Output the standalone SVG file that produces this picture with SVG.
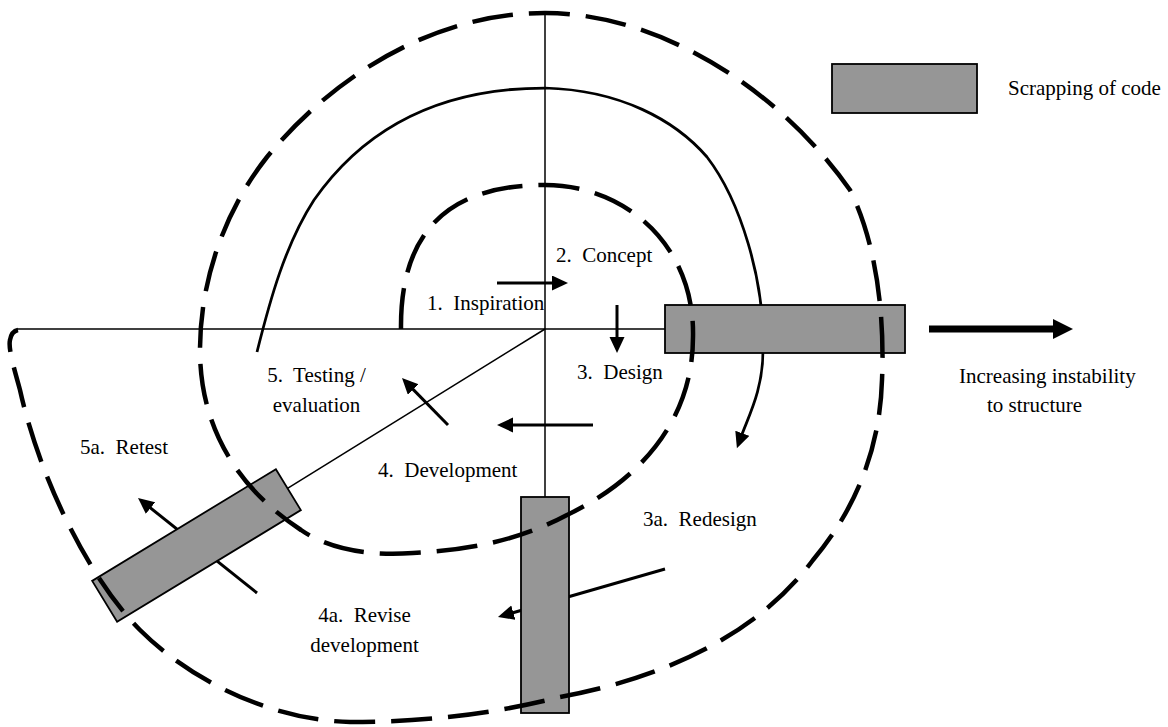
<svg xmlns="http://www.w3.org/2000/svg" width="1168" height="727" viewBox="0 0 1168 727" xml:space="preserve">
  <defs>
    <style>
      .lbl { font-family: "Liberation Serif", "Times New Roman", serif; font-size: 21px; fill: #000; white-space: pre; }
      .mid { text-anchor: middle; }
      .axis { stroke: #000; stroke-width: 1.5; fill: none; }
      .dash { stroke: #000; stroke-width: 4.5; fill: none; stroke-dasharray: 41 16; }
      .flow { stroke: #000; stroke-width: 2.75; fill: none; marker-end: url(#head); }
      .arr { stroke: #000; stroke-width: 3; fill: none; marker-end: url(#head); }
      .scrap { fill: #969696; stroke: #000; stroke-width: 1.8; }
    </style>
    <marker id="head" markerUnits="userSpaceOnUse" markerWidth="17" markerHeight="16" refX="4" refY="7.5" orient="auto">
      <path d="M0,0 L16,7.5 L0,15 z" fill="#000"/>
    </marker>
  </defs>

  <rect width="1168" height="727" fill="#fff"/>

  <!-- axes, solid spiral and stage arrows (beneath the scrap blocks) -->
  <g id="connectors">
    <line class="axis" x1="17" y1="329" x2="665" y2="329"/>
    <line class="axis" x1="545" y1="15" x2="545" y2="600"/>
    <line class="axis" x1="545" y1="329" x2="196" y2="545"/>

    <path class="flow" d="M257,352 C270,300 285,245 314,200 C370,120 450,88 545,88 C620,90 675,120 707,157 C740,200 765,280 763,350 C763,390 749,415 741,437"/>

    <line class="arr" x1="497" y1="283" x2="556" y2="283"/>
    <line class="arr" x1="617" y1="305" x2="617" y2="341"/>
    <line class="arr" x1="593" y1="425" x2="509" y2="425"/>
    <line class="arr" x1="448" y1="425" x2="410.4" y2="386.6"/>
    <line class="arr" x1="257" y1="593" x2="147.4" y2="505.5"/>
    <line class="arr" x1="665" y1="569" x2="509.5" y2="613.7"/>

    <line x1="929" y1="329" x2="1054" y2="329" stroke="#000" stroke-width="7"/>
    <polygon points="1053,319 1073,329 1053,339" fill="#000"/>
  </g>

  <!-- scrap blocks -->
  <g id="scrap-right">
    <rect class="scrap" x="665" y="305" width="240" height="48"/>
  </g>
  <g id="scrap-bottom">
    <rect class="scrap" x="521" y="497" width="48" height="216"/>
  </g>
  <g id="scrap-left">
    <rect class="scrap" x="-107.5" y="-24" width="215" height="48" transform="translate(196.5,545.5) rotate(-31.3)"/>
  </g>

  <!-- dashed development spiral, drawn over the blocks -->
  <g id="spiral">
    <path class="dash" d="M401,329 C400,235 445,185 545,185 C625,185 695,245 693,337 C693,420 640,480 567,515 C520,540 470,550 413,553 C370,556 330,550 301,530 C240,490 200,430 200,350 C200,280 225,210 267,157 C330,80 430,13 545,13 C660,13 780,90 850,190 C875,240 885,310 882,380 C880,450 855,510 813,560 C765,625 680,675 560,697 C490,715 420,722 350,722 C270,720 190,680 140,630 C90,580 40,480 20,390 C14,368 8,348 10,340 C11,334 13,331 18,330"/>
  </g>

  <!-- legend -->
  <g id="legend">
    <rect class="scrap" x="832" y="64" width="145" height="49"/>
    <text class="lbl" x="1008" y="95">Scrapping of code</text>
  </g>

  <!-- stage labels -->
  <g id="stage-1"><text class="lbl" x="427" y="310">1.  Inspiration</text></g>
  <g id="stage-2"><text class="lbl" x="556" y="262">2.  Concept</text></g>
  <g id="stage-3"><text class="lbl" x="577" y="379">3.  Design</text></g>
  <g id="stage-4"><text class="lbl" x="378" y="477">4.  Development</text></g>
  <g id="stage-5">
    <text class="lbl mid" x="316.5" y="382">5.  Testing /</text>
    <text class="lbl mid" x="316.5" y="412">evaluation</text>
  </g>
  <g id="stage-3a"><text class="lbl" x="643" y="526">3a.  Redesign</text></g>
  <g id="stage-4a">
    <text class="lbl mid" x="364.5" y="622">4a.  Revise</text>
    <text class="lbl mid" x="364.5" y="652">development</text>
  </g>
  <g id="stage-5a"><text class="lbl" x="80" y="454">5a.  Retest</text></g>
  <g id="instability">
    <text class="lbl" x="959" y="383">Increasing instability</text>
    <text class="lbl" x="987" y="412">to structure</text>
  </g>
</svg>
